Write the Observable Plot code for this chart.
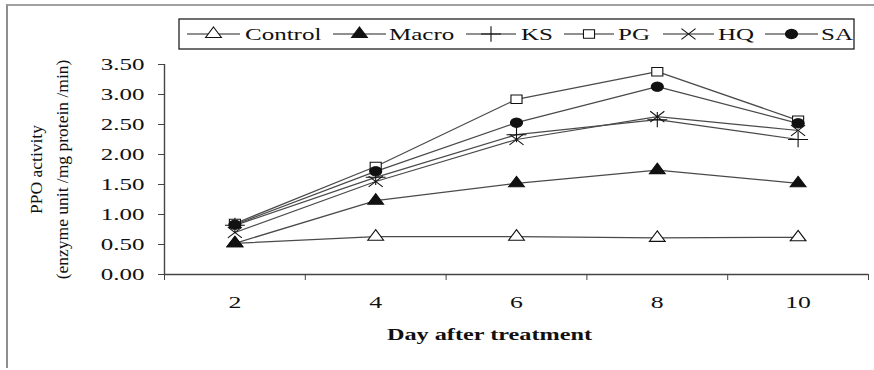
<!DOCTYPE html>
<html><head><meta charset="utf-8">
<script src="https://cdn.jsdelivr.net/npm/d3@7"></script>
<script src="https://cdn.jsdelivr.net/npm/@observablehq/plot@0.6"></script>
<style>
body{margin:0;background:#fff}
#wrap{position:relative;width:874px;height:370px;overflow:hidden;font-family:"Liberation Serif","Times New Roman",serif}
#frame{position:absolute;left:6px;top:4px;width:866px;height:362px;border-left:2px solid #8e8e8e;border-top:2px solid #a0a0a0}
#wrap svg{position:absolute;left:0;top:0}
</style></head><body><div id="wrap"><div id="frame"></div></div>
<script>
// ---- data ----
const days = [2, 4, 6, 8, 10];
const seriesNames = ["Control", "Macro", "KS", "PG", "HQ", "SA"];
const control = [0.52, 0.63, 0.63, 0.61, 0.62];
const macro   = [0.52, 1.23, 1.52, 1.74, 1.52];
const ks      = [0.82, 1.62, 2.33, 2.58, 2.25];
const pg      = [0.85, 1.80, 2.92, 3.38, 2.57];
const hq      = [0.70, 1.55, 2.25, 2.63, 2.40];
const sa      = [0.83, 1.72, 2.53, 3.13, 2.52];
const yTicks = [0, 0.5, 1, 1.5, 2, 2.5, 3, 3.5];
const xTitle = "Day after treatment";
const yTitle1 = "PPO activity";
const yTitle2 = "(enzyme unit /mg protein /min)";

// ---- styles ----
const STRETCH = 1.47;      // the original picture is stretched horizontally
const MARK_STRETCH = 1.3;
function stretched(base, sx) {
  return {
    draw(ctx, size) {
      const proxy = {
        moveTo: (x, y) => ctx.moveTo(x * sx, y),
        lineTo: (x, y) => ctx.lineTo(x * sx, y),
        closePath: () => ctx.closePath(),
        rect: (x, y, w, h) => {
          ctx.moveTo(x * sx, y); ctx.lineTo((x + w) * sx, y);
          ctx.lineTo((x + w) * sx, y + h); ctx.lineTo(x * sx, y + h); ctx.closePath();
        },
        arc: (cx, cy, r, a0, a1) => {
          const n = 32;
          for (let k = 0; k <= n; k++) {
            const a = a0 + (a1 - a0) * k / n;
            ctx.lineTo((cx + r * Math.cos(a)) * sx, cy + r * Math.sin(a));
          }
        }
      };
      base.draw(proxy, size);
    }
  };
}
const symTypes = {
  Control: stretched(d3.symbolTriangle, MARK_STRETCH),
  Macro: stretched(d3.symbolTriangle, MARK_STRETCH),
  KS: stretched(d3.symbolPlus || d3.symbolCross, MARK_STRETCH),
  PG: stretched(d3.symbolSquare, MARK_STRETCH),
  HQ: stretched(d3.symbolX || d3.symbolTimes, MARK_STRETCH),
  SA: stretched(d3.symbolCircle, MARK_STRETCH)
};
const fills = {Control: "white", Macro: "#111", KS: "none", PG: "white", HQ: "none", SA: "#111"};
const radii = {Control: 4.5, Macro: 4.5, KS: 5, PG: 4.8, HQ: 5, SA: 4.6};

const values = [control, macro, ks, pg, hq, sa];
const rows = [];
seriesNames.forEach((s, i) => days.forEach((d, j) => rows.push({series: s, day: d, value: values[i][j]})));

// band edges of the category axis (ticks between categories)
const edges = [days[0] - 1, ...days.map(d => d + 1)];
const xDom = [edges[0], edges[edges.length - 1]];
const yDom = [yTicks[0], yTicks[yTicks.length - 1]];

const marks = [
  Plot.ruleX([xDom[0]], {y1: yDom[0], y2: yDom[1], stroke: "#444", strokeWidth: 1.4}),
  Plot.ruleY([yDom[0]], {x1: xDom[0], x2: xDom[1], stroke: "#444", strokeWidth: 1.4}),
  Plot.axisY({ticks: yTicks, tickFormat: d3.format(".2f"), tickSize: 6, tickPadding: 14, fontSize: 17, label: null, stroke: "#444"}),
  Plot.axisX({ticks: edges, tickSize: 6, tickFormat: () => "", label: null, stroke: "#444"}),
  Plot.text(days, {x: d => d, y: yDom[0], dy: 28, text: d => String(d), fontSize: 17.5}),
  Plot.text([xTitle], {frameAnchor: "bottom", dy: 65, dx: -27, text: d => d, fontSize: 16.5, fontWeight: "bold"}),
  Plot.text([yTitle1], {frameAnchor: "left", textAnchor: "middle", dx: -128, rotate: -90, text: d => d, fontSize: 17.5}),
  Plot.text([yTitle2], {frameAnchor: "left", textAnchor: "middle", dx: -102, rotate: -90, text: d => d, fontSize: 17.5}),
  Plot.line(rows, {x: "day", y: "value", z: "series", stroke: "#4a4a4a", strokeWidth: 1.25})
];
seriesNames.forEach(s => {
  marks.push(Plot.dot(rows.filter(r => r.series === s), {
    x: "day", y: "value", symbol: symTypes[s], r: radii[s],
    fill: fills[s], stroke: "#111", strokeWidth: 1.1
  }));
});

const chart = Plot.plot({
  width: 874, height: 370,
  marginLeft: 164, marginRight: 6, marginTop: 64, marginBottom: 96,
  x: {domain: xDom, axis: null},
  y: {domain: yDom, axis: null},
  style: {fontFamily: '"Liberation Serif","Times New Roman",serif', background: "transparent", color: "#111"},
  marks
});
const wrap = document.getElementById("wrap");
wrap.appendChild(chart);

// ---- legend ----
const lg = d3.select(wrap).append("svg").attr("width", 874).attr("height", 60);
lg.append("rect").attr("x", 179).attr("y", 19).attr("width", 675).attr("height", 30)
  .attr("fill", "white").attr("stroke", "#222").attr("stroke-width", 1.3);
const legendPos = [
  {l1: 187, l2: 240, tx: 245}, {l1: 333, l2: 386, tx: 389}, {l1: 466, l2: 516, tx: 521},
  {l1: 564, l2: 614, tx: 618}, {l1: 663, l2: 714, tx: 718}, {l1: 765, l2: 818, tx: 821}
];
seriesNames.forEach((s, i) => {
  const p = legendPos[i], cy = 34, mx = (p.l1 + p.l2) / 2;
  lg.append("line").attr("x1", p.l1).attr("x2", p.l2).attr("y1", cy).attr("y2", cy).attr("stroke", "#222").attr("stroke-width", 1.2);
  const r = radii[s];
  const sym = d3.symbol(symTypes[s], r * r * Math.PI);
  lg.append("path").attr("d", sym()).attr("transform", `translate(${mx},${cy})`)
    .attr("fill", fills[s]).attr("stroke", "#111").attr("stroke-width", 1.1);
  lg.append("text").attr("x", p.tx).attr("y", cy).attr("dominant-baseline", "central")
    .attr("font-size", 17).attr("fill", "#111").text(s);
});

// horizontal stretch of the (horizontally scaled) original text
d3.select(wrap).selectAll("text").each(function () {
  const t = this;
  const tr = t.getAttribute("transform") || "";
  if (tr.includes("rotate")) return;
  const len = t.getComputedTextLength();
  if (!len || t.querySelector("tspan + tspan")) return;
  t.setAttribute("textLength", (len * STRETCH).toFixed(1));
  t.setAttribute("lengthAdjust", "spacingAndGlyphs");
});
</script></body></html>
